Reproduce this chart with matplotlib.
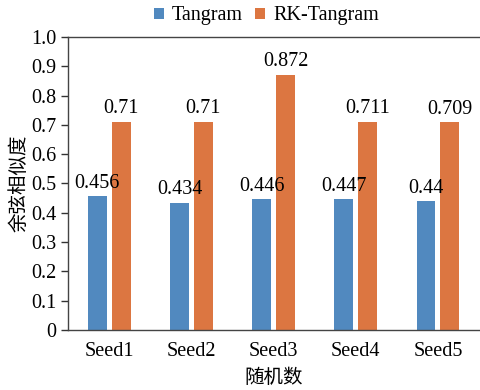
import numpy as np
import matplotlib; matplotlib.use("Agg"); import matplotlib.pyplot as plt

seeds = ["Seed1", "Seed2", "Seed3", "Seed4", "Seed5"]
tangram = [0.456, 0.434, 0.446, 0.447, 0.44]
rk_tangram = [0.71, 0.71, 0.872, 0.711, 0.709]
tangram_lbl = ["0.456", "0.434", "0.446", "0.447", "0.44"]
rk_lbl = ["0.71", "0.71", "0.872", "0.711", "0.709"]

SERIF = ["Liberation Serif", "Noto Sans CJK SC", "DejaVu Serif"]
CJK = ["Noto Sans CJK SC", "DejaVu Sans"]
plt.rcParams["font.family"] = SERIF
plt.rcParams["font.size"] = 14.5
C1, C2 = "#5189bf", "#dc7641"

fig = plt.figure(figsize=(4.8, 3.9), dpi=100)
ax = fig.add_axes([0.142, 0.154, 0.856, 0.751])
x = np.arange(len(seeds))
w, gap = 0.23, 0.06
b1 = ax.bar(x - (w + gap) / 2, tangram, w, color=C1, label="Tangram")
b2 = ax.bar(x + (w + gap) / 2, rk_tangram, w, color=C2, label="RK-Tangram")
for rects, lbls in ((b1, tangram_lbl), (b2, rk_lbl)):
    for r, s in zip(rects, lbls):
        ax.text(r.get_x() + r.get_width() / 2, r.get_height() + 0.012, s,
                ha="center", va="bottom", fontsize=14.5)

ax.set_xlim(-0.5, len(seeds) - 0.5)
ax.set_ylim(0, 1.0)
ax.set_yticks(np.arange(0, 1.01, 0.1))
ax.set_yticklabels(["0"] + [f"{v:.1f}" for v in np.arange(0.1, 1.01, 0.1)])
ax.set_xticks(x)
ax.set_xticklabels(seeds)
ax.tick_params(axis="x", length=0, pad=9)
ax.tick_params(axis="y", direction="out", length=5, width=1, color="#333333")
for s in ("left", "bottom", "top"):
    ax.spines[s].set_color("#444444"); ax.spines[s].set_linewidth(1)
ax.spines["right"].set_visible(False)
ax.set_ylabel("余弦相似度", family=CJK, fontsize=14, labelpad=1)
ax.set_xlabel("随机数", family=CJK, fontsize=14, labelpad=4)
fig.legend(handles=[b1, b2], loc="upper center", bbox_to_anchor=(0.555, 1.03), ncol=2,
           frameon=False, handlelength=0.5, handleheight=0.5, handletextpad=0.4,
           columnspacing=0.6, fontsize=14.5)
fig.savefig("out.png", dpi=100)
